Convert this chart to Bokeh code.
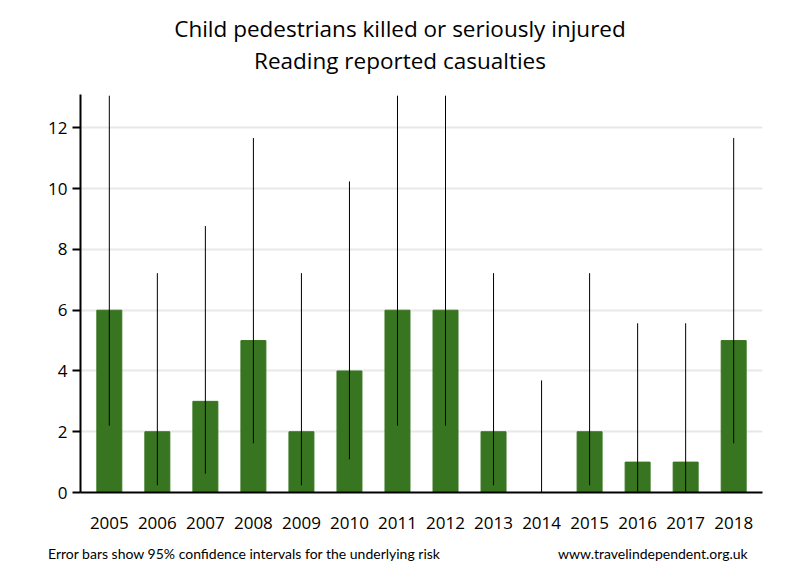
from bokeh.plotting import figure
from bokeh.models import ColumnDataSource, FactorRange, Range1d, FixedTicker, Div
from bokeh.layouts import column
from bokeh.embed import file_html
from bokeh.resources import INLINE

years = ["2005", "2006", "2007", "2008", "2009", "2010", "2011", "2012",
         "2013", "2014", "2015", "2016", "2017", "2018"]
casualties = [6, 2, 3, 5, 2, 4, 6, 6, 2, 0, 2, 1, 1, 5]
ci_lower = [2.2, 0.24, 0.62, 1.62, 0.24, 1.09, 2.2, 2.2, 0.24, 0.0, 0.24, 0.03, 0.03, 1.62]
ci_upper = [13.06, 7.22, 8.77, 11.67, 7.22, 10.24, 13.06, 13.06, 7.22, 3.69, 7.22, 5.57, 5.57, 11.67]
y_ticks = [0, 2, 4, 6, 8, 10, 12]

title_lines = ["Child pedestrians killed or seriously injured", "Reading reported casualties"]
note_left = "Error bars show 95% confidence intervals for the underlying risk"
note_right = "www.travelindependent.org.uk"

FONT = "Open Sans"
BAR = "#387520"

src = ColumnDataSource(dict(x=years, top=casualties, lo=ci_lower, hi=ci_upper))

p = figure(width=790, height=460,
           x_range=FactorRange(*years, range_padding=0.1, range_padding_units="absolute"),
           y_range=Range1d(0, 13.1), output_backend="svg", toolbar_location=None,
           min_border_left=80, min_border_right=28, min_border_top=14, min_border_bottom=48)
p.outline_line_color = None

p.vbar(x="x", top="top", width=0.52, color=BAR, source=src)
p.segment(x0="x", y0="lo", x1="x", y1="hi", line_color="black", line_width=1, source=src)

p.xgrid.grid_line_color = None
p.ygrid.grid_line_color = "#e8e8e8"
p.ygrid.grid_line_width = 2
p.yaxis.ticker = FixedTicker(ticks=y_ticks)
p.yaxis.minor_tick_line_color = None
p.yaxis.major_tick_out = 8
p.yaxis.major_tick_in = 0
p.yaxis.major_tick_line_width = 2
p.yaxis.axis_line_width = 2
p.xaxis.axis_line_width = 2
p.xaxis.major_tick_line_color = None
p.xaxis.major_label_standoff = 18
p.yaxis.major_label_standoff = 5
for ax in (p.xaxis, p.yaxis):
    ax.major_label_text_font = FONT
    ax.major_label_text_font_size = "17px"
    ax.major_label_text_color = "black"
    ax.axis_line_color = "black"

header = Div(text=(
    '<div style="position:relative;width:800px;height:80px;'
    f'font-family:\'{FONT}\';font-size:22.5px;line-height:32px;color:black">'
    f'<div style="position:absolute;left:0;top:13px;width:800px;text-align:center;white-space:nowrap">{title_lines[0]}</div>'
    f'<div style="position:absolute;left:0;top:45px;width:800px;text-align:center;white-space:nowrap">{title_lines[1]}</div>'
    '</div>'),
    width=790, height=80, margin=0)

footer = Div(text=(
    '<div style="position:relative;width:790px;height:24px;'
    'font-family:Lato;font-size:14px;line-height:17px;color:black">'
    f'<span style="position:absolute;left:48px;top:5px;white-space:nowrap">{note_left}</span>'
    f'<span style="position:absolute;left:558px;top:5px;white-space:nowrap">{note_right}</span></div>'),
    width=790, height=30, margin=0)

layout = column(header, p, footer, spacing=0)
open("out.html", "w").write(file_html(layout, INLINE))
